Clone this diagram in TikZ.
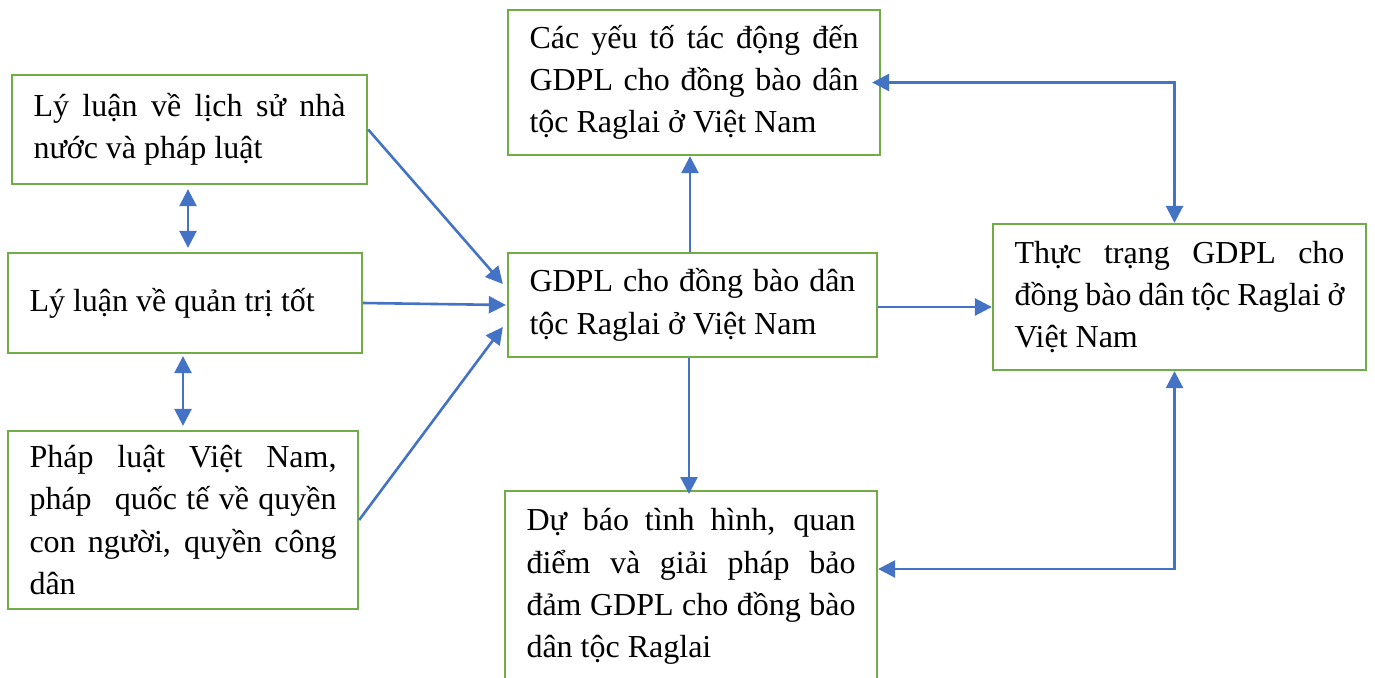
\documentclass[tikz,border=0pt]{standalone}
\usepackage{fontspec}
\setmainfont{Liberation Serif}
\usetikzlibrary{arrows.meta,calc}
\definecolor{boxgreen}{HTML}{70AD47}
\definecolor{arrowblue}{HTML}{4472C4}
\tolerance=10000
\hbadness=10000
\hyphenpenalty=10000
\begin{document}
\begin{tikzpicture}[x=1pt,y=-1pt,
  box/.style={draw=boxgreen, line width=2.3pt, inner xsep=21.5pt, inner ysep=0pt,
    align=justify, font=\fontsize{32}{42.3}\selectfont, fill=white},
  conn/.style={draw=arrowblue, line width=2.6pt, -{Triangle[length=17pt,width=17pt]}},
  dconn/.style={draw=arrowblue, line width=2.6pt, {Triangle[length=17pt,width=17pt]}-{Triangle[length=17pt,width=17pt]}}
]
\useasboundingbox (0,0) rectangle (1375,677);
\clip (0,0) rectangle (1375,677);

\node[box, minimum width=355pt, minimum height=109pt, text width=312pt] (A) at (189.5,129.5)
  {Lý luận về lịch sử nhà\linebreak nước và pháp luật};
\node[box, minimum width=354pt, minimum height=100pt, text width=311pt] (B) at (185,303)
  {Lý luận về quản trị tốt};
\node[box, minimum width=350pt, minimum height=178pt, text width=307pt] (C) at (183,520)
  {Pháp luật Việt Nam,\linebreak pháp\hspace{14pt} quốc tế về quyền\linebreak con người, quyền công\linebreak dân};
\node[box, minimum width=372pt, minimum height=145pt, text width=329pt] (D) at (694,82.5)
  {Các yếu tố tác động đến\linebreak GDPL cho đồng bào dân\linebreak tộc Raglai ở Việt Nam};
\node[box, minimum width=369pt, minimum height=104pt, text width=326pt] (E) at (692.5,305)
  {GDPL cho đồng bào dân\linebreak tộc Raglai ở Việt Nam};
\node[box, minimum width=372pt, text width=329pt, inner ysep=17.5pt, text depth=180pt, anchor=north] (F) at (691,490)
  {Dự báo tình hình, quan\linebreak điểm và giải pháp bảo\linebreak đảm GDPL cho đồng bào\linebreak dân tộc Raglai};
\node[box, minimum width=373pt, minimum height=146pt, text width=330pt] (G) at (1179.5,297)
  {Thực trạng GDPL cho\linebreak đồng bào dân tộc Raglai ở\linebreak Việt Nam};

% left inputs to E
\draw[conn] (A.east) -- ([yshift=21pt,xshift=-4pt]E.west);
\draw[conn] (B.east) -- ([xshift=-1pt]E.west);
\draw[conn] (C.east) -- ([yshift=-22pt,xshift=-4pt]E.west);
% left vertical double arrows
\draw[dconn, shorten <=4pt, shorten >=4pt] ([xshift=-1.5pt]A.south) -- ([xshift=-1.5pt]A.south |- B.north);
\draw[dconn, shorten <=2pt, shorten >=4pt] (C.north |- B.south) -- (C.north);
% E to D, F, G
\draw[conn] ([xshift=-2.5pt]E.north) -- ([xshift=-2.5pt]E.north |- D.south);
\draw[conn, shorten >=-4pt] ([xshift=-3.5pt]E.south) -- ([xshift=-3.5pt]E.south |- F.north);
\draw[conn] ([yshift=-2pt]E.east) -- ([yshift=-2pt]E.east -| G.west);
% G <-> D, G <-> F
\draw[dconn] ([xshift=-5pt]G.north) |- ([xshift=-9pt]D.east);
\draw[dconn] ([xshift=-5pt]G.south) |- ([yshift=-79pt]F.north east);
\end{tikzpicture}
\end{document}
